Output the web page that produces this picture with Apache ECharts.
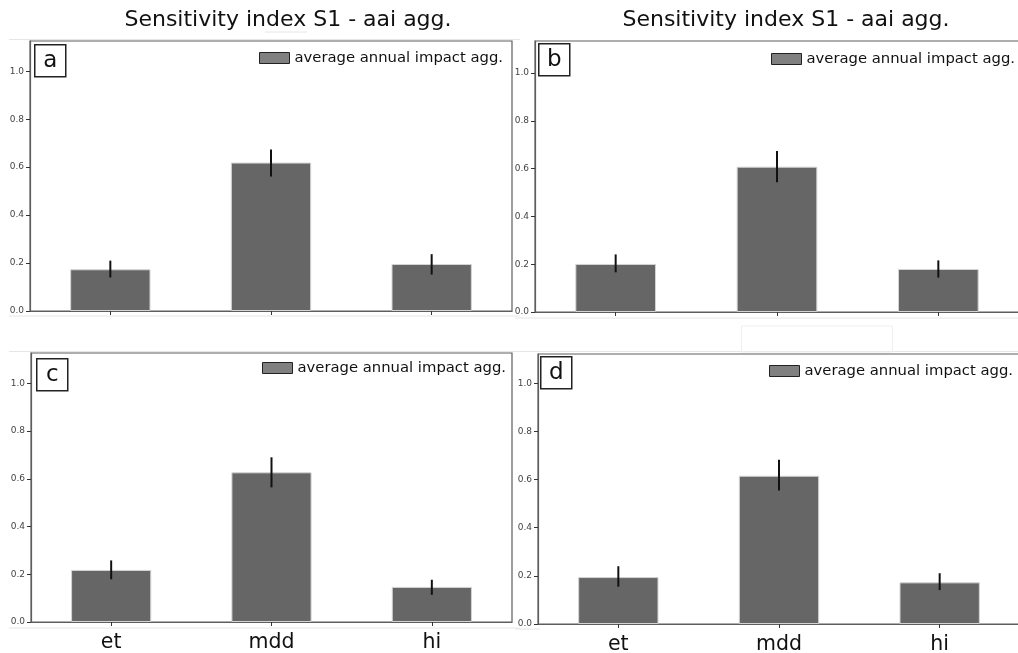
<!DOCTYPE html>
<html>
<head>
<meta charset="utf-8">
<script src="https://cdn.jsdelivr.net/npm/echarts@6/dist/echarts.min.js"></script>
<style>
html,body{margin:0;padding:0;background:#fff;}
#chart{width:1018px;height:653px;}
</style>
</head>
<body>
<div id="chart"></div>
<script>
// ---- data ----
const categories = ['et', 'mdd', 'hi'];
const panelLetters = ['a', 'b', 'c', 'd'];
const titleText = 'Sensitivity index S1 - aai agg.';
const seriesName = 'average annual impact agg.';
const yTicks = [0, 0.2, 0.4, 0.6, 0.8, 1.0];

const s1_a = [0.174, 0.619, 0.196];
const lo_a = [0.140, 0.561, 0.152];
const hi_a = [0.210, 0.673, 0.237];

const s1_b = [0.201, 0.608, 0.180];
const lo_b = [0.166, 0.543, 0.144];
const hi_b = [0.241, 0.674, 0.216];

const s1_c = [0.218, 0.627, 0.147];
const lo_c = [0.179, 0.564, 0.114];
const hi_c = [0.258, 0.690, 0.177];

const s1_d = [0.195, 0.616, 0.173];
const lo_d = [0.155, 0.555, 0.141];
const hi_d = [0.240, 0.683, 0.211];

const yMax = [1.126, 1.134, 1.127, 1.122];

// ---- layout ----
const FONT = 'DejaVu Sans';
const grids = [
  {left: 30, top: 41, width: 482, height: 270},
  {left: 535, top: 41, width: 484, height: 271},
  {left: 31, top: 353, width: 481, height: 269},
  {left: 538, top: 354, width: 482, height: 270}
];
const legendPos = [
  {left: 259, top: 50.5},
  {left: 771, top: 51.5},
  {left: 262, top: 360.5},
  {left: 769, top: 363.5}
];
const letterPos = [
  [34, 44], [538, 43], [36, 358], [540, 356]
];
const values = [s1_a, s1_b, s1_c, s1_d];
const lows = [lo_a, lo_b, lo_c, lo_d];
const highs = [hi_a, hi_b, hi_c, hi_d];

const chart = echarts.init(document.getElementById('chart'), null, {renderer: 'canvas'});

const option = {
  animation: false,
  backgroundColor: '#fff',
  textStyle: {fontFamily: FONT},
  title: [
    {text: titleText, left: 283, top: 4, textAlign: 'center',
     textStyle: {fontFamily: FONT, fontSize: 22, fontWeight: 'normal', color: '#111'}},
    {text: titleText, left: 781, top: 4, textAlign: 'center',
     textStyle: {fontFamily: FONT, fontSize: 22, fontWeight: 'normal', color: '#111'}}
  ],
  grid: grids.map(g => Object.assign({show: true, outerBoundsMode: 'none', containLabel: false,
    borderColor: '#5e5e5e', borderWidth: 1.2, backgroundColor: '#fff'}, g)),
  legend: legendPos.map((p, i) => ({
    left: p.left, top: p.top, padding: 0,
    data: [seriesName],
    icon: 'rect', itemWidth: 30, itemHeight: 11,
    itemStyle: {color: '#808080', borderColor: '#222', borderWidth: 1},
    textStyle: {fontFamily: FONT, fontSize: 14.8, color: '#111'},
    selectedMode: false
  })),
  xAxis: grids.map((g, i) => ({
    type: 'category', gridIndex: i, data: categories,
    axisLine: {show: true, lineStyle: {color: '#5e5e5e', width: 1.2}},
    axisTick: {show: true, alignWithLabel: true, length: 4, lineStyle: {color: '#333'}},
    axisLabel: {show: i >= 2, fontFamily: FONT, fontSize: 20.5, color: '#111', margin: 10},
    splitLine: {show: false}
  })),
  yAxis: grids.map((g, i) => ({
    type: 'value', gridIndex: i, min: 0, max: yMax[i],
    axisLine: {show: true, lineStyle: {color: '#5e5e5e', width: 1.2}},
    axisTick: {show: true, length: 4, customValues: yTicks, lineStyle: {color: '#333'}},
    axisLabel: {customValues: yTicks, fontFamily: FONT, fontSize: 9, color: '#444', margin: 6,
      formatter: v => v.toFixed(1)},
    splitLine: {show: false}
  })),
  series: [],
  graphic: []
};

for (let i = 0; i < 4; i++) {
  option.series.push({
    name: seriesName, type: 'bar', xAxisIndex: i, yAxisIndex: i,
    data: values[i], barWidth: '50%',
    itemStyle: {color: '#666666', borderColor: '#d4d4d4', borderWidth: 1}
  });
  option.series.push({
    name: 'err' + i, type: 'custom', xAxisIndex: i, yAxisIndex: i,
    encode: {x: 0, y: [1, 2]},
    data: categories.map((c, k) => [k, lows[i][k], highs[i][k]]),
    renderItem: function (params, api) {
      const x = api.value(0);
      const p1 = api.coord([x, api.value(1)]);
      const p2 = api.coord([x, api.value(2)]);
      return {type: 'line', shape: {x1: p1[0], y1: p1[1], x2: p2[0], y2: p2[1]},
              style: {stroke: '#111', lineWidth: 2}};
    },
    z: 5
  });
}

// panel letter boxes
letterPos.forEach((p, i) => {
  option.graphic.push({
    type: 'group', left: p[0], top: p[1], z: 100,
    children: [
      {type: 'rect', shape: {x: 0, y: 0, width: 31, height: 32},
       style: {fill: '#fff', stroke: '#222', lineWidth: 1.5}},
      {type: 'text', x: 15.5, y: 16,
       style: {text: panelLetters[i], font: '23px "DejaVu Sans"', fill: '#111',
               align: 'center', verticalAlign: 'middle'}}
    ]
  });
});

// faint screenshot seams
const seams = [
  [9, 39.5, 520, 39.5], [265, 32, 307, 32], [9, 316, 520, 316], [515, 318, 1018, 318],
  [9, 351.5, 520, 351.5], [515, 351.5, 1018, 351.5], [9, 628, 520, 628], [515, 629, 540, 629]
];
seams.forEach(s => option.graphic.push({
  type: 'line', z: -1, shape: {x1: s[0], y1: s[1], x2: s[2], y2: s[3]},
  style: {stroke: '#e6e6e6', lineWidth: 1}
}));
option.graphic.push({
  type: 'rect', z: -1, shape: {x: 741.5, y: 326, width: 151, height: 26},
  style: {fill: 'none', stroke: '#efefef', lineWidth: 1}
});

chart.setOption(option);
</script>
</body>
</html>
